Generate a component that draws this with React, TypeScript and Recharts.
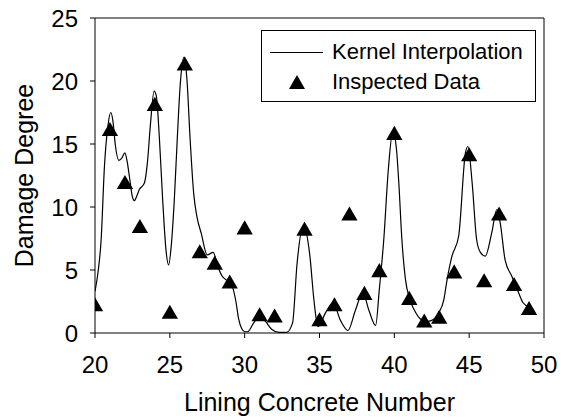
import React from "react";
import {
  ComposedChart,
  Line,
  Scatter,
  XAxis,
  YAxis,
  ZAxis,
  ReferenceLine,
} from "recharts";

// ── Data ─────────────────────────────────────────────────────────────────────

// kernel interpolation curve
const curveX = [
  20.0, 20.2, 20.41, 20.63, 20.86, 21.05, 21.2, 21.35, 21.6, 21.8, 22.0, 22.15,
  22.3, 22.5, 22.63, 22.8, 22.97, 23.3, 23.5, 23.7, 23.95, 24.1, 24.3, 24.52,
  24.75, 24.92, 25.1, 25.3, 25.5, 25.7, 25.95, 26.15, 26.35, 26.6, 26.8, 27.1,
  27.5, 27.9, 28.2, 28.5, 28.9, 29.2, 29.4, 29.6, 29.8, 30.0, 30.2, 30.6, 31.0,
  31.4, 31.8, 32.3, 32.8, 33.2, 33.5, 33.92, 34.35, 34.63, 34.9, 35.4, 35.9,
  36.4, 36.9, 37.4, 37.9, 38.3, 38.75, 39.0, 39.3, 39.6, 39.9, 40.15, 40.3,
  40.5, 40.75, 41.0, 41.3, 41.6, 42.1, 42.5, 42.97, 43.3, 43.52, 43.85, 44.3,
  44.75, 44.92, 45.2, 45.5, 45.75, 46.08, 46.5, 46.85, 47.08, 47.4, 47.85, 48.3,
  48.6, 49.08,
];
const curveY = [
  3.3, 4.8, 7.4, 13.2, 16.4, 17.5, 16.8, 15.0, 13.7, 13.9, 14.3, 13.6, 12.4,
  10.8, 10.5, 10.9, 11.4, 11.9, 13.5, 16.5, 19.2, 18.8, 15.5, 10.6, 6.5, 5.4,
  7.0, 10.6, 15.5, 19.8, 21.9, 20.0, 15.5, 11.0, 9.3, 7.9, 6.2, 6.4, 5.3, 4.5,
  4.1, 3.6, 2.6, 1.1, 0.35, 0.1, 0.1, 0.8, 1.3, 0.9, 0.3, 0.05, 0.05, 0.8, 5.5,
  8.5, 6.2, 2.6, 0.5, 1.6, 2.4, 1.0, 0.2, 1.8, 3.2, 1.8, 0.6, 3.5, 7.5, 13.0,
  16.0, 14.5, 11.9, 7.5, 4.2, 2.8, 1.9, 1.3, 0.9, 1.0, 1.6, 2.6, 4.2, 6.1, 7.7,
  14.3, 14.8, 11.9, 7.4, 6.4, 6.1, 7.9, 9.8, 8.7, 5.8, 4.5, 3.2, 2.4, 2.0,
];

// inspected data (no sample at 33)
const pointX = [
  20, 21, 22, 23, 24, 25, 26, 27, 28, 29, 30, 31, 32, 34, 35, 36, 37, 38, 39,
  40, 41, 42, 43, 44, 45, 46, 47, 48, 49,
];
const pointY = [
  2.1, 16.0, 11.8, 8.3, 18.0, 1.5, 21.2, 6.3, 5.4, 3.9, 8.2, 1.3, 1.2, 8.1,
  0.9, 2.1, 9.3, 3.0, 4.8, 15.7, 2.6, 0.8, 1.1, 4.7, 14.0, 4.0, 9.3, 3.7, 1.8,
];

const xTicks = [20, 25, 30, 35, 40, 45, 50];
const yTicks = [0, 5, 10, 15, 20, 25];

const curveData = curveX.map((x, i) => ({ x, y: curveY[i] }));
const pointData = pointX.map((x, i) => ({ x, y: pointY[i] }));

const FONT = "Arial, 'Liberation Sans', sans-serif";
const tickStyle = { fill: "#000", fontSize: 24, fontFamily: FONT };

// ── Components ────────────────────────────────────────────────────────────────

function ChartLegend() {
  return (
    <div
      style={{
        position: "absolute",
        left: 261,
        top: 30,
        width: 273,
        height: 70,
        border: "1px solid #000",
        background: "#fff",
        fontFamily: FONT,
        fontSize: 22,
        color: "#000",
      }}
    >
      <div style={{ position: "absolute", left: 8, top: 21, width: 53, height: 1, background: "#000" }} />
      <div style={{ position: "absolute", left: 70, top: 8, lineHeight: "26px" }}>Kernel Interpolation</div>
      <svg style={{ position: "absolute", left: 26, top: 42 }} width={18} height={18}>
        <polygon points="9,2 17,16 1,16" fill="#000" />
      </svg>
      <div style={{ position: "absolute", left: 70, top: 38, lineHeight: "26px" }}>Inspected Data</div>
    </div>
  );
}

export default function App() {
  return (
    <div style={{ position: "relative", width: 573, height: 420, background: "#fff" }}>
      <style>{`body{margin:0}`}</style>
      <ComposedChart width={573} height={420} margin={{ top: 18, right: 29, left: 35, bottom: 27 }}>
        <XAxis
          dataKey="x"
          type="number"
          domain={[20, 50]}
          ticks={xTicks}
          allowDataOverflow
          tick={tickStyle}
          stroke="#000"
          tickSize={5}
          tickMargin={18}
          height={60}
          label={{
            content: ({ viewBox }: any) => (
              <text
                x={viewBox.x + viewBox.width / 2}
                y={411}
                textAnchor="middle"
                fontSize={25}
                fontFamily={FONT}
                fill="#000"
              >
                Lining Concrete Number
              </text>
            ),
          }}
        />
        <YAxis
          dataKey="y"
          type="number"
          domain={[0, 25]}
          ticks={yTicks}
          allowDataOverflow
          tick={tickStyle}
          stroke="#000"
          tickSize={5}
          tickMargin={12}
          width={60}
          label={{
            content: ({ viewBox }: any) => {
              const cy = viewBox.y + viewBox.height / 2;
              return (
                <text
                  x={24}
                  y={cy}
                  transform={`rotate(-90 24 ${cy})`}
                  textAnchor="middle"
                  dominantBaseline="central"
                  fontSize={25}
                  fontFamily={FONT}
                  fill="#000"
                >
                  Damage Degree
                </text>
              );
            },
          }}
        />
        <ZAxis type="number" range={[115, 115]} />
        <ReferenceLine y={25} stroke="#000" strokeWidth={1} />
        <ReferenceLine x={50} stroke="#000" strokeWidth={1} />
        <Line
          data={curveData}
          dataKey="y"
          type="monotone"
          stroke="#000"
          strokeWidth={1.2}
          dot={false}
          activeDot={false}
          isAnimationActive={false}
        />
        <Scatter data={pointData} dataKey="y" shape="triangle" fill="#000" isAnimationActive={false} />
      </ComposedChart>
      <ChartLegend />
    </div>
  );
}
